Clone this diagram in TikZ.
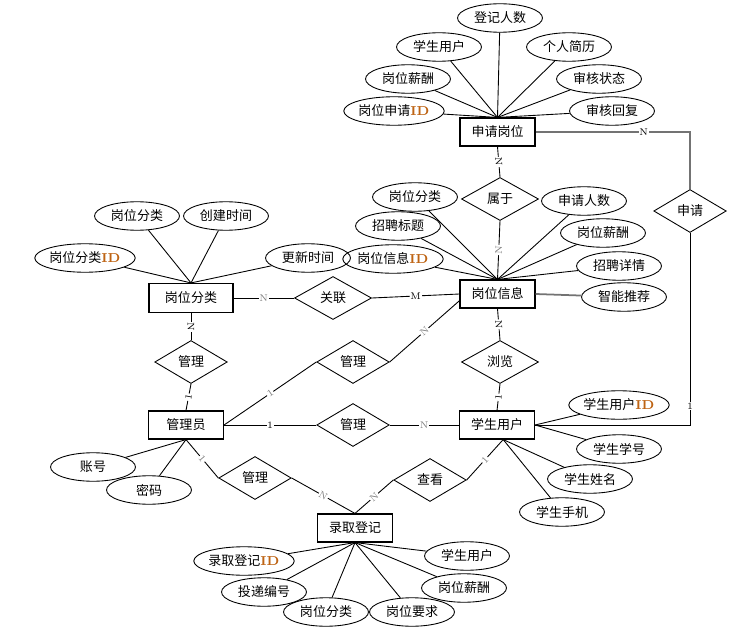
\documentclass[tikz,border=0pt]{standalone}
\usepackage{fontspec}
\newfontfamily\cjk{Noto Sans CJK SC}
\usetikzlibrary{shapes.geometric}
\definecolor{idbrown}{RGB}{190,100,20}
\newcommand{\idtag}{\textcolor{idbrown}{\rmfamily\bfseries ID}}

\begin{document}
\begin{tikzpicture}[x=0.02cm,y=-0.02cm]
\tikzset{
  entity/.style={rectangle,draw,line width=0.65pt,minimum width=1.5cm,minimum height=0.56cm,inner sep=1pt,font=\cjk\fontsize{7.4}{8}\selectfont},
  relation/.style={diamond,draw,line width=0.5pt,minimum width=1.45cm,minimum height=0.86cm,inner sep=0pt,font=\cjk\fontsize{7.4}{8}\selectfont},
  attribute/.style={ellipse,draw,line width=0.5pt,minimum width=1.7cm,minimum height=0.57cm,inner sep=0pt,font=\cjk\fontsize{7.4}{8}\selectfont},
  link/.style={line width=0.5pt},
  greylink/.style={line width=1pt,black!55},
  card/.style={fill=white,inner sep=0.4pt,font=\fontsize{5.5}{6}\selectfont},
  greycard/.style={card,text=black!50}
}
\useasboundingbox (0,0) rectangle (751,635);
\node[entity] (n_apply) at (497.5,132) {申请岗位};
\node[entity] (n_info) at (497.5,294) {岗位信息};
\node[entity,minimum width=1.68cm,minimum height=0.58cm] (n_cat) at (191,298) {岗位分类};
\node[entity] (n_admin) at (186,425) {管理员};
\node[entity] (n_stu) at (497,425) {学生用户};
\node[entity] (n_enroll) at (355,528) {录取登记};
\node[relation,minimum width=1.54cm] (n_belong) at (500,199) {属于};
\node[relation] (n_req) at (690,211) {申请};
\node[relation,minimum width=1.54cm] (n_link) at (333,298) {关联};
\node[relation] (n_mgrcat) at (191,362) {管理};
\node[relation] (n_mgrinfo) at (353,362) {管理};
\node[relation,minimum width=1.54cm] (n_browse) at (500,362) {浏览};
\node[relation] (n_mgrstu) at (353,425) {管理};
\node[relation] (n_mgrenroll) at (255,478) {管理};
\node[relation] (n_view) at (430,480) {查看};
\node[attribute] (n_ap_count) at (500,18) {登记人数};
\node[attribute] (n_ap_user) at (439,47) {学生用户};
\node[attribute] (n_ap_cv) at (569,47) {个人简历};
\node[attribute] (n_ap_pay) at (408,79) {岗位薪酬};
\node[attribute] (n_ap_state) at (599,79) {审核状态};
\node[attribute] (n_ap_id) at (394,111) {岗位申请\idtag};
\node[attribute] (n_ap_reply) at (612,111) {审核回复};
\node[attribute] (n_in_cat) at (415,197) {岗位分类};
\node[attribute] (n_in_num) at (584,201) {申请人数};
\node[attribute] (n_in_title) at (398,226) {招聘标题};
\node[attribute] (n_in_pay) at (603,233) {岗位薪酬};
\node[attribute] (n_in_id) at (393,259) {岗位信息\idtag};
\node[attribute] (n_in_detail) at (619,266) {招聘详情};
\node[attribute] (n_in_rec) at (624,297) {智能推荐};
\node[attribute] (n_ca_name) at (137,216) {岗位分类};
\node[attribute] (n_ca_time) at (226,216) {创建时间};
\node[attribute] (n_ca_id) at (85,258) {岗位分类\idtag};
\node[attribute] (n_ca_upd) at (308,258) {更新时间};
\node[attribute] (n_ad_acc) at (93,467) {账号};
\node[attribute] (n_ad_pwd) at (149,490) {密码};
\node[attribute] (n_st_id) at (619,405) {学生用户\idtag};
\node[attribute] (n_st_no) at (619,449) {学生学号};
\node[attribute] (n_st_name) at (590,479) {学生姓名};
\node[attribute] (n_st_phone) at (562,512) {学生手机};
\node[attribute] (n_en_id) at (244,561) {录取登记\idtag};
\node[attribute] (n_en_user) at (467,556) {学生用户};
\node[attribute] (n_en_no) at (264,592) {投递编号};
\node[attribute] (n_en_pay) at (464,588) {岗位薪酬};
\node[attribute] (n_en_cat) at (326,612) {岗位分类};
\node[attribute] (n_en_req) at (412,612) {岗位要求};
\foreach \a in {n_ap_count,n_ap_user,n_ap_cv,n_ap_pay,n_ap_state,n_ap_id,n_ap_reply}
  \draw[link] (n_apply.north) -- (\a);
\foreach \a in {n_in_cat,n_in_num,n_in_title,n_in_pay,n_in_id,n_in_detail}
  \draw[link] (n_info.north) -- (\a);
\draw[greylink] (n_info.east) -- (n_in_rec);
\foreach \a in {n_ca_name,n_ca_time,n_ca_id,n_ca_upd}
  \draw[link] (n_cat.north) -- (\a);
\foreach \a in {n_ad_acc,n_ad_pwd}
  \draw[link] (n_admin.south) -- (\a);
\draw[link] (n_stu.east) -- (n_st_id);
\draw[link] (n_stu.east) -- (n_st_no);
\draw[link] (n_stu.293) -- (n_st_name);
\draw[link] (n_stu.293) -- (n_st_phone);
\foreach \a in {n_en_id,n_en_user,n_en_no,n_en_pay,n_en_cat,n_en_req}
  \draw[link] (n_enroll.south) -- (\a);
\draw[greylink] (n_apply.east) -| node[card,text=black,pos=0.35] {N} (n_req.north);
\draw[link] (n_stu.east) -| node[card,pos=0.55] {1} (n_req.south);
\draw[link] (n_apply.south) -- node[card,sloped] {N} (n_belong.north);
\draw[link] (n_belong.south) -- node[greycard,sloped] {N} (n_info.north);
\draw[link] (n_cat.east) -- node[greycard] {N} (n_link.west);
\draw[link] (n_link.east) -- node[card] {M} (n_info.west);
\draw[link] (n_cat.south) -- node[card,sloped] {N} (n_mgrcat.north);
\draw[link] (n_mgrcat.south) -- node[card,sloped] {1} (n_admin.north);
\draw[link] (n_admin.east) -- node[greycard,sloped] {1} (n_mgrinfo.west);
\draw[link] (n_mgrinfo.east) -- node[greycard,sloped] {N} (n_info.190);
\draw[link] (n_admin.east) -- node[card] {1} (n_mgrstu.west);
\draw[link] (n_mgrstu.east) -- node[greycard] {N} (n_stu.west);
\draw[link] (n_info.south) -- node[card,sloped] {N} (n_browse.north);
\draw[link] (n_browse.south) -- node[card,sloped] {1} (n_stu.north);
\draw[link] (n_admin.south) -- node[greycard,sloped] {1} (n_mgrenroll.west);
\draw[link] (n_mgrenroll.east) -- node[greycard,sloped] {N} (n_enroll.north);
\draw[link] (n_stu.293) -- node[greycard,sloped] {1} (n_view.east);
\draw[link] (n_view.west) -- node[greycard,sloped] {N} (n_enroll.north);
\end{tikzpicture}
\end{document}
